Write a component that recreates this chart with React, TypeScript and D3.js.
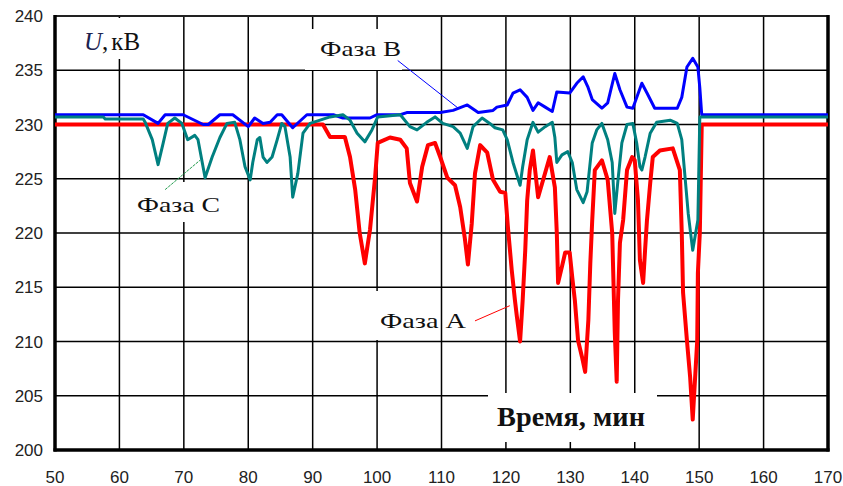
import React from "react";
import * as d3 from "d3";

// Phase A (red)
const tA = [50, 91.6, 92.7, 95.0, 95.8, 96.6, 97.3, 98.1, 98.9, 99.7, 100.1, 102.0, 103.6, 104.6, 105.1, 106.2, 107.0, 107.9, 109.0, 109.8, 110.9, 112.1, 112.9, 113.6, 114.1, 114.7, 115.2, 116.0, 117.1, 118.0, 119.1, 119.9, 120.3, 120.9, 121.4, 121.7, 122.2, 122.6, 123.0, 123.3, 123.7, 124.2, 125.0, 126.8, 127.6, 127.9, 128.1, 128.7, 129.2, 129.9, 130.3, 130.7, 131.2, 131.8, 132.3, 132.8, 133.1, 133.4, 133.8, 134.9, 135.8, 136.5, 136.9, 137.2, 137.4, 137.7, 138.2, 138.8, 139.6, 140.0, 140.5, 140.8, 141.3, 141.6, 141.9, 142.4, 142.8, 143.9, 145.9, 147.0, 147.3, 147.5, 148.1, 148.6, 149.0, 149.7, 149.8, 150.1, 150.4, 170];
const uA = [230, 230, 228.85, 228.85, 227.0, 224.0, 220.0, 217.2, 220.3, 225.2, 228.3, 228.8, 228.6, 227.8, 224.6, 222.9, 226.1, 228.1, 228.3, 227.0, 225.1, 224.4, 222.4, 219.6, 217.1, 220.9, 225.5, 228.1, 227.4, 224.9, 223.8, 223.7, 220.6, 216.6, 213.8, 212.3, 210.0, 213.8, 218.4, 223.0, 225.8, 227.6, 223.3, 227.0, 224.2, 220.0, 215.4, 216.9, 218.2, 218.2, 215.9, 213.8, 210.1, 208.6, 207.2, 212.0, 217.2, 221.2, 225.8, 226.7, 224.9, 220.0, 210.8, 206.3, 213.8, 219.1, 221.2, 225.8, 227.0, 226.7, 223.0, 217.5, 215.4, 218.4, 221.2, 224.6, 227.0, 227.6, 227.8, 225.8, 220.0, 214.5, 210.1, 206.7, 202.8, 210.1, 216.3, 220.0, 230, 230];

// Phase B (blue)
const tB = [50, 63.7, 66.0, 67.1, 69.9, 73.0, 73.8, 75.6, 77.6, 80.0, 81.0, 82.3, 83.4, 84.5, 85.2, 86.9, 89.1, 93.2, 94.7, 98.9, 100.0, 103.6, 104.6, 109.8, 111.8, 114.0, 115.7, 118.0, 118.6, 120.2, 121.1, 122.2, 123.3, 124.2, 125.0, 126.1, 127.2, 127.9, 129.9, 131.0, 132.0, 132.7, 133.4, 134.9, 135.8, 136.9, 137.7, 138.8, 139.7, 141.1, 141.9, 143.1, 146.6, 147.3, 148.1, 149.0, 149.8, 150.1, 150.4, 170];
const uB = [230.9, 230.9, 230.1, 230.9, 230.9, 230.0, 230.0, 230.9, 230.9, 229.8, 230.6, 230.1, 230.2, 230.9, 230.9, 229.7, 230.9, 230.9, 230.6, 230.6, 230.9, 230.9, 231.1, 231.1, 231.3, 231.8, 231.1, 231.3, 231.6, 231.8, 232.9, 233.2, 232.5, 231.3, 232.0, 231.6, 231.2, 233.0, 232.9, 233.8, 234.4, 233.5, 232.3, 231.5, 232.0, 234.7, 233.2, 231.6, 231.5, 233.8, 232.9, 231.5, 231.5, 232.5, 235.3, 236.1, 235.3, 233.4, 230.9, 230.9];

// Phase C (teal)
const tC = [50, 57.5, 57.8, 63.7, 64.0, 65.1, 66.0, 66.8, 67.5, 68.6, 69.7, 70.6, 71.7, 72.2, 73.3, 74.4, 75.6, 76.7, 77.9, 78.7, 79.5, 80.3, 80.7, 81.4, 81.8, 82.3, 82.9, 83.7, 84.5, 85.2, 85.7, 86.5, 86.9, 87.7, 88.5, 89.6, 92.7, 94.7, 95.8, 96.9, 98.1, 99.2, 100.1, 103.6, 105.1, 106.2, 107.7, 109.0, 110.2, 111.8, 112.9, 114.0, 114.9, 116.3, 117.5, 118.3, 119.5, 120.2, 121.1, 122.2, 122.6, 123.3, 124.2, 125.0, 126.1, 127.2, 127.6, 127.9, 128.7, 129.6, 130.3, 131.0, 132.0, 132.6, 133.4, 134.1, 134.9, 135.8, 136.5, 136.9, 137.4, 138.0, 138.8, 139.7, 140.3, 140.8, 141.1, 141.6, 142.4, 143.4, 145.5, 146.6, 147.3, 147.8, 148.3, 149.0, 149.8, 150.1, 170];
const uC = [230.7, 230.7, 230.5, 230.5, 230.2, 228.6, 226.3, 228.3, 230.1, 230.6, 230.1, 228.6, 229.0, 228.6, 225.1, 227.0, 228.8, 230.1, 230.2, 228.6, 226.1, 224.9, 226.5, 228.6, 228.8, 227.0, 226.5, 227.0, 228.6, 230.1, 229.8, 227.0, 223.3, 225.5, 229.2, 230.1, 230.7, 230.9, 230.4, 229.2, 228.4, 229.5, 230.7, 230.9, 229.8, 229.5, 230.2, 230.7, 230.1, 229.8, 229.2, 227.8, 229.8, 230.6, 230.1, 229.7, 229.5, 228.6, 226.5, 224.4, 226.1, 228.6, 230.2, 229.3, 229.8, 230.2, 228.8, 226.5, 227.2, 227.5, 226.5, 224.0, 222.8, 223.8, 228.3, 229.5, 230.1, 228.6, 226.5, 221.8, 224.9, 228.3, 230.0, 230.1, 228.3, 226.1, 225.8, 227.0, 229.2, 230.2, 230.4, 230.1, 228.6, 225.2, 221.8, 218.4, 221.2, 230.7, 230.7];

const xTicks = [50, 60, 70, 80, 90, 100, 110, 120, 130, 140, 150, 160, 170];
const yTicks = [200, 205, 210, 215, 220, 225, 230, 235, 240];

const W = 843;
const H = 486;
const serif = "'Liberation Serif', 'Times New Roman', serif";
const sans = "'Liberation Sans', Arial, sans-serif";

export default function App() {
  const x = d3.scaleLinear().domain([50, 170]).range([55, 828]);
  const y = d3.scaleLinear().domain([200, 240]).range([450, 16]);
  const line = d3
    .line<[number, number]>()
    .x((d) => x(d[0]))
    .y((d) => y(d[1]));
  const mk = (t: number[], u: number[]) => line(t.map((v, i) => [v, u[i]] as [number, number])) || "";

  const boxes = [
    { x0: 57, y0: 18, x1: 150, y1: 59 },
    { x0: 305, y0: 29, x1: 402, y1: 70 },
    { x0: 130, y0: 182, x1: 228, y1: 222 },
    { x0: 372, y0: 291, x1: 437, y1: 340 },
    { x0: 488, y0: 393, x1: 657, y1: 442 },
  ];

  return (
    <svg width={W} height={H} style={{ position: "absolute", left: 0, top: 0, background: "#fff" }}>
      <rect x={0} y={0} width={W} height={H} fill="#fff" />
      {/* grid */}
      {xTicks.slice(1, -1).map((t) => (
        <line key={"gx" + t} x1={x(t)} x2={x(t)} y1={y(240)} y2={y(200)} stroke="#000" strokeWidth={1.5} />
      ))}
      {yTicks.slice(1, -1).map((v) => (
        <line key={"gy" + v} x1={x(50)} x2={x(170)} y1={y(v)} y2={y(v)} stroke="#000" strokeWidth={1.5} />
      ))}
      {/* label backgrounds */}
      {boxes.map((b, i) => (
        <rect key={"b" + i} x={b.x0} y={b.y0} width={b.x1 - b.x0} height={b.y1 - b.y0} fill="#fff" />
      ))}
      {/* frame */}
      <line x1={x(50)} x2={x(170)} y1={y(240)} y2={y(240)} stroke="#222" strokeWidth={2} />
      <line x1={x(50)} x2={x(50)} y1={y(240) - 1} y2={y(200) + 1.5} stroke="#000" strokeWidth={3.5} />
      <line x1={x(170)} x2={x(170)} y1={y(240) - 1} y2={y(200) + 1.5} stroke="#000" strokeWidth={3.5} />
      <line x1={x(50) - 1.5} x2={x(170) + 1.5} y1={y(200)} y2={y(200)} stroke="#000" strokeWidth={3.5} />

      {/* series */}
      <path d={mk(tA, uA)} fill="none" stroke="#ff0000" strokeWidth={4} strokeLinejoin="round" />
      <path d={mk(tB, uB)} fill="none" stroke="#0000ff" strokeWidth={3} strokeLinejoin="round" />
      <path d={mk(tC, uC)} fill="none" stroke="#008080" strokeWidth={3} strokeLinejoin="round" />

      {/* leader lines */}
      <line x1={x(103.2)} y1={y(235.9)} x2={x(112.6)} y2={y(231.5)} stroke="#0000ff" strokeWidth={1} />
      <line x1={x(115.2)} y1={y(211.9)} x2={x(120.6)} y2={y(213.3)} stroke="#ff0000" strokeWidth={1} />
      <line x1={x(67.1)} y1={y(224.0)} x2={x(72.5)} y2={y(226.7)} stroke="#1f9a4a" strokeWidth={1} strokeDasharray="3,1" />

      {/* tick labels */}
      {yTicks.map((v) => (
        <text key={"ty" + v} x={43} y={y(v)} dy="0.36em" textAnchor="end" fontFamily={sans} fontSize={17} fill="#222">
          {v}
        </text>
      ))}
      {xTicks.map((t) => (
        <text key={"tx" + t} x={x(t)} y={477} dy="0.36em" textAnchor="middle" fontFamily={sans} fontSize={17} fill="#222">
          {t}
        </text>
      ))}

      {/* annotations */}
      <text x={84} y={50} fontFamily={serif} fontSize={25} fill="#111">
        <tspan fontStyle="italic" fill="#1c2350">U</tspan>
        <tspan>,</tspan>
        <tspan dx={3}>кВ</tspan>
      </text>
      <text x={320} y={56} fontFamily={serif} fontSize={22} fill="#111" textLength={81} lengthAdjust="spacingAndGlyphs">
        Фаза В
      </text>
      <text x={137} y={212} fontFamily={serif} fontSize={22} fill="#111" textLength={83} lengthAdjust="spacingAndGlyphs">
        Фаза С
      </text>
      <text x={380} y={328} fontFamily={serif} fontSize={22} fill="#111" textLength={86} lengthAdjust="spacingAndGlyphs">
        Фаза А
      </text>
      <text x={497} y={426} fontFamily={serif} fontSize={28} fontWeight="bold" fill="#111" textLength={148} lengthAdjust="spacingAndGlyphs">
        Время, мин
      </text>
    </svg>
  );
}
